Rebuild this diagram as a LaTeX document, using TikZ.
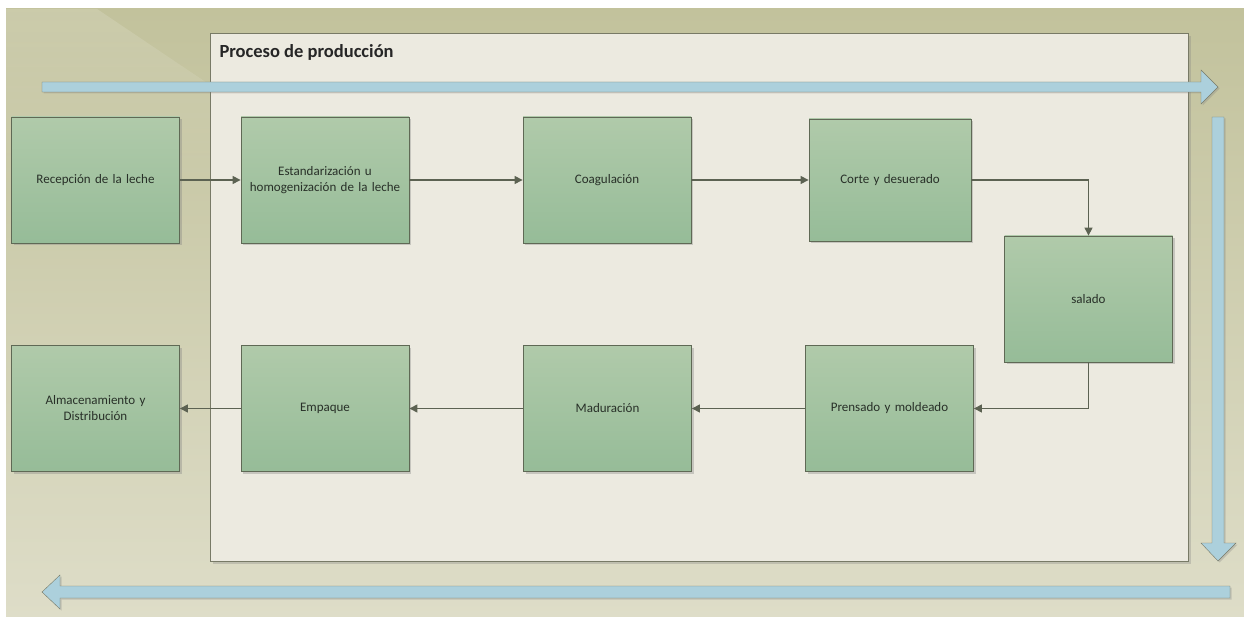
\documentclass[tikz,border=0pt]{standalone}
\usepackage{fontspec}
\setmainfont{Carlito}
\usepackage{xcolor}
\usetikzlibrary{arrows.meta, shadows, fadings}
\definecolor{fondotop}{RGB}{194,194,156}
\definecolor{fondobottom}{RGB}{222,221,200}
\definecolor{panelcolor}{RGB}{236,234,224}
\definecolor{bordecolor}{RGB}{120,122,102}
\definecolor{cajatop}{RGB}{176,202,170}
\definecolor{cajabottom}{RGB}{150,188,152}
\definecolor{cajaborde}{RGB}{95,105,85}
\definecolor{flechacolor}{RGB}{172,208,220}
\definecolor{lineacolor}{RGB}{92,98,82}
\definecolor{textocolor}{RGB}{40,48,40}

\begin{document}
\begin{tikzpicture}[x=1pt, y=-1pt,
    caja/.style={draw=cajaborde, thick, top color=cajatop, bottom color=cajabottom,
        minimum width=168pt, minimum height=126pt, text width=160pt, align=center,
        font=\fontsize{13}{16}\selectfont, text=textocolor,
        drop shadow={shadow xshift=2pt, shadow yshift=-2pt, opacity=0.35}},
    flecha/.style={draw=bordecolor, fill=flechacolor,
        drop shadow={shadow xshift=1.5pt, shadow yshift=-1.5pt, opacity=0.3}},
    conector/.style={draw=lineacolor, line width=1.1pt, -{Triangle[length=8pt, width=8pt]}}]
    \useasboundingbox (0,0) rectangle (1244,617);
    \fill[white] (0,0) rectangle (1244,617);

    % background
    \fill[top color=fondotop, bottom color=fondobottom] (6,9) rectangle (1244,617);
    \fill[white, opacity=0.15, path fading=south] (6,9) -- (97,9) -- (210,85) -- (210,200) -- (6,200) -- cycle;

    % production panel
    \draw[draw=bordecolor, thick, fill=panelcolor,
        drop shadow={shadow xshift=3pt, shadow yshift=-3pt, opacity=0.3}] (210,33) rectangle (1188,561);
    \node[anchor=west, font=\fontsize{18.5}{22}\selectfont\bfseries, text=black!85] (titulo) at (216,52) {Proceso de producción};

    % block arrows
    \path[flecha] (42,82) -- (1201,82) -- (1201,70) -- (1218,87) -- (1201,104) -- (1201,92) -- (42,92) -- cycle;
    \path[flecha] (1212,117) -- (1224,117) -- (1224,543) -- (1236,543) -- (1218,561) -- (1201,543) -- (1212,543) -- cycle;
    \path[flecha] (1230,586) -- (60,586) -- (60,575) -- (42,592) -- (60,609) -- (60,598) -- (1230,598) -- cycle;

    % top row
    \node[caja] (recepcion) at (95.5,180) {Recepción de la leche};
    \node[caja] (estandar) at (325,180) {Estandarización u\\homogenización de la leche};
    \node[caja] (coagulacion) at (607,180) {Coagulación};
    \node[caja, text width=150pt, minimum width=162pt, minimum height=122pt] (corte) at (890,180) {Corte y desuerado};

    % right side
    \node[caja] (salado) at (1088.5,299) {salado};

    % bottom row
    \node[caja] (prensado) at (889.5,408.5) {Prensado y moldeado};
    \node[caja] (maduracion) at (607.5,408.5) {Maduración};
    \node[caja] (empaque) at (325,408.5) {Empaque};
    \node[caja] (almacen) at (95.5,408.5) {Almacenamiento y\\Distribución};

    % connectors
    \draw[conector] (recepcion) -- (estandar);
    \draw[conector] (estandar) -- (coagulacion);
    \draw[conector] (coagulacion) -- (corte);
    \draw[conector] (corte.east) -| (salado.north);
    \draw[conector] (salado.south) |- (prensado.east);
    \draw[conector] (prensado) -- (maduracion);
    \draw[conector] (maduracion) -- (empaque);
    \draw[conector] (empaque) -- (almacen);
\end{tikzpicture}
\end{document}
